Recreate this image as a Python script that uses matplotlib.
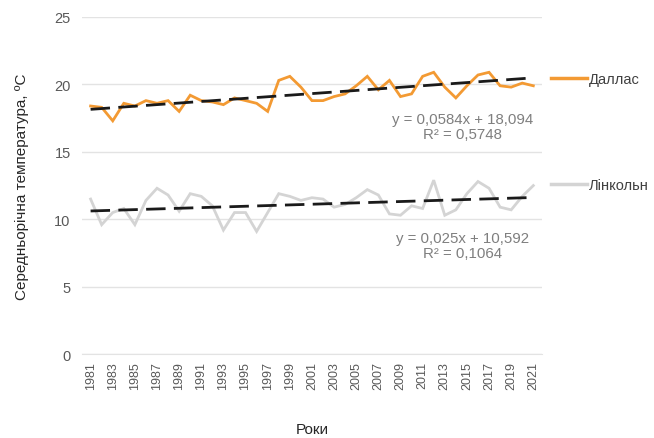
import matplotlib
matplotlib.use("Agg")
import matplotlib.pyplot as plt
from matplotlib.lines import Line2D
import numpy as np

plt.rcParams['font.family'] = ['Liberation Sans', 'DejaVu Sans']

years = list(range(1981, 2022))
dallas = [18.4, 18.3, 17.3, 18.6, 18.4, 18.8, 18.6, 18.8, 18.0, 19.2,
          18.8, 18.7, 18.5, 19.0, 18.8, 18.6, 18.0, 20.3, 20.6, 19.8,
          18.8, 18.8, 19.1, 19.3, 19.9, 20.6, 19.6, 20.3, 19.1, 19.3,
          20.6, 20.9, 19.8, 19.0, 19.9, 20.7, 20.9, 19.9, 19.8, 20.1, 19.9]
lincoln = [11.5, 9.6, 10.5, 10.8, 9.6, 11.4, 12.3, 11.8, 10.6, 11.9,
           11.7, 11.0, 9.2, 10.5, 10.5, 9.1, 10.5, 11.9, 11.7, 11.4,
           11.6, 11.5, 10.9, 11.1, 11.6, 12.2, 11.8, 10.4, 10.3, 11.0,
           10.8, 12.9, 10.3, 10.7, 11.9, 12.8, 12.3, 10.9, 10.7, 11.7, 12.5]
series_names = ["Даллас", "Лінкольн"]
trend_slope = [0.0584, 0.025]
trend_intercept = [18.094, 10.592]
trend_r2 = ["0,5748", "0,1064"]
trend_eq = ["y = 0,0584x + 18,094", "y = 0,025x + 10,592"]
yticks = [0, 5, 10, 15, 20, 25]

fig = plt.figure(figsize=(6.54, 4.39), dpi=100)
ax = fig.add_axes([0.125, 0.191, 0.704, 0.768])

colors = ["#F39A33", "#D4D4D4"]
idx = np.arange(1, len(years) + 1)
yrs = np.array(years)
handles = []
for vals, c, name in zip([dallas, lincoln], colors, series_names):
    ln, = ax.plot(yrs, vals, color=c, lw=2.0, solid_joinstyle='miter', zorder=3)
    handles.append(ln)
for s, b in zip(trend_slope, trend_intercept):
    ax.plot(yrs, s * idx + b, color="#1a1a1a", lw=2.0, dashes=(7, 3), zorder=4)

ax.set_xlim(1980.2, 2021.8)
ax.set_ylim(0, 25)
ax.set_yticks(yticks)
ax.set_xticks(years[::2])
ax.set_xticklabels([str(y) for y in years[::2]], rotation=90)
ax.grid(axis='y', color="#E3E3E3", lw=1)
ax.set_axisbelow(True)
for sp in ax.spines.values():
    sp.set_visible(False)
ax.spines['bottom'].set_visible(True)
ax.spines['bottom'].set_color("#E3E3E3")
ax.tick_params(length=0, labelcolor="#595959", labelsize=10.5)
ax.tick_params(axis='x', labelsize=9, pad=5)
ax.tick_params(axis='y', pad=8)

ax.set_xlabel("Роки", fontsize=11, color="#262626", labelpad=24)
ax.set_ylabel("Середньорічна температура, ºС", fontsize=11, color="#262626", labelpad=18)

ax.text(2014.6, 16.9, trend_eq[0] + "\nR² = " + trend_r2[0], ha='center', va='center',
        fontsize=10.8, color="#7F7F7F", multialignment='center', linespacing=1.05)
ax.text(2014.6, 8.05, trend_eq[1] + "\nR² = " + trend_r2[1], ha='center', va='center',
        fontsize=10.8, color="#7F7F7F", multialignment='center', linespacing=1.05)

for h, name, yf in zip(handles, series_names, [1 - 80 / 439, 1 - 186 / 439]):
    fig.legend([Line2D([], [], color=h.get_color(), lw=2.5)], [name],
               loc='center left', bbox_to_anchor=(0.842, yf), frameon=False,
               fontsize=10.5, handlelength=2.5, handletextpad=0.15,
               labelcolor="#404040", borderaxespad=0, borderpad=0)

fig.savefig("out.png", dpi=100)
